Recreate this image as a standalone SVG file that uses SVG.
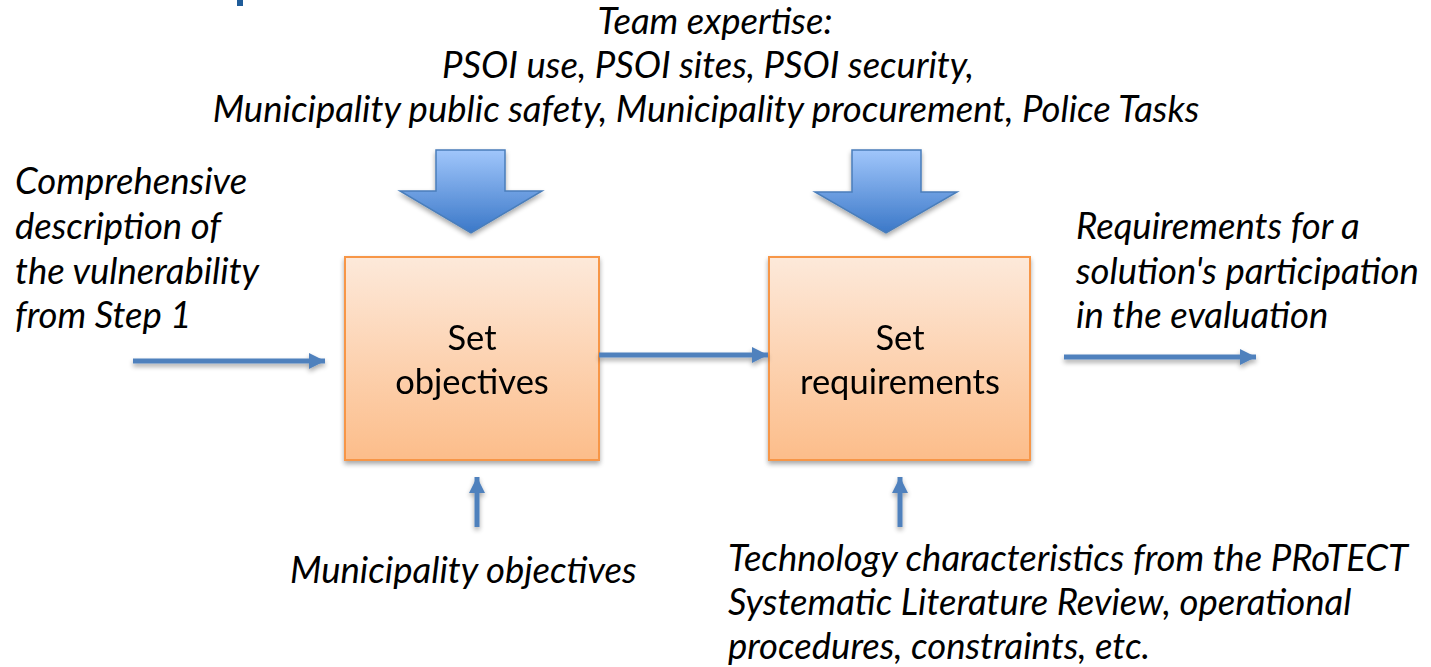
<svg xmlns="http://www.w3.org/2000/svg" width="1431" height="667" viewBox="0 0 1431 667">
  <defs>
    <linearGradient id="boxFill" x1="0" y1="0" x2="0" y2="1">
      <stop offset="0" stop-color="#fde9da"/>
      <stop offset="1" stop-color="#fcbd8a"/>
    </linearGradient>
    <linearGradient id="blockFill" x1="0" y1="0" x2="0" y2="1">
      <stop offset="0" stop-color="#a0c6fb"/>
      <stop offset="1" stop-color="#3b78c8"/>
    </linearGradient>
    <filter id="shadow" x="-20%" y="-20%" width="140%" height="160%">
      <feGaussianBlur in="SourceAlpha" stdDeviation="2.5"/>
      <feOffset dx="0" dy="3" result="b"/>
      <feComponentTransfer><feFuncA type="linear" slope="0.35"/></feComponentTransfer>
      <feMerge><feMergeNode/><feMergeNode in="SourceGraphic"/></feMerge>
    </filter>
    <marker id="head" viewBox="0 0 10 10" refX="10" refY="5" markerWidth="3.2" markerHeight="3.2" orient="auto" markerUnits="strokeWidth">
      <path d="M0,0 L10,5 L0,10 z" fill="#4f81bd"/>
    </marker>
  </defs>
  <style>
    .box { fill: url(#boxFill); stroke: #f79646; stroke-width: 2; }
    .block { fill: url(#blockFill); stroke: #4a7ebb; stroke-width: 1.5; }
    .flow { stroke: #4f81bd; stroke-width: 5; fill: none; marker-end: url(#head); }
    .lbl { font-family: Lato, "Liberation Sans", sans-serif; font-style: italic; font-size: 36.5px; fill: #000; }
    .name { font-family: Lato, "Liberation Sans", sans-serif; font-size: 34.5px; fill: #000; text-anchor: middle; }
  </style>

  <rect x="237" y="0" width="6" height="6" fill="#1f5c99"/>

  <g id="top-label">
    <text class="lbl" text-anchor="middle" x="715" y="34">Team expertise:</text>
    <text class="lbl" text-anchor="middle" x="708" y="78">PSOI use, PSOI sites, PSOI security,</text>
    <text class="lbl" text-anchor="middle" x="706" y="122">Municipality public safety, Municipality procurement, Police Tasks</text>
  </g>

  <g id="expertise-arrow-1" filter="url(#shadow)">
    <path class="block" d="M436,150 H505 V191 H542 L471,233 L400,191 H436 Z"/>
  </g>
  <g id="expertise-arrow-2" filter="url(#shadow)">
    <path class="block" d="M852,150 H921 V192 H957 L886,233 L815,192 H852 Z"/>
  </g>

  <g id="input-label">
    <text class="lbl" x="15" y="194">Comprehensive</text>
    <text class="lbl" x="15" y="239">description of</text>
    <text class="lbl" x="15" y="284">the vulnerability</text>
    <text class="lbl" x="15" y="328">from Step 1</text>
  </g>

  <g id="output-label">
    <text class="lbl" x="1076" y="239">Requirements for a</text>
    <text class="lbl" x="1076" y="284">solution's participation</text>
    <text class="lbl" x="1076" y="328">in the evaluation</text>
  </g>

  <g id="set-objectives" filter="url(#shadow)">
    <rect class="box" x="345" y="257" width="254" height="203"/>
    <text class="name" x="472" y="350">Set</text>
    <text class="name" x="472" y="394">objectives</text>
  </g>

  <g id="set-requirements" filter="url(#shadow)">
    <rect class="box" x="769" y="257" width="261" height="203"/>
    <text class="name" x="900" y="350">Set</text>
    <text class="name" x="900" y="394">requirements</text>
  </g>

  <g id="connectors" filter="url(#shadow)">
    <line class="flow" x1="133" y1="361" x2="325" y2="361"/>
    <line class="flow" x1="599" y1="355" x2="768" y2="355"/>
    <line class="flow" x1="1064" y1="357" x2="1256" y2="357"/>
    <line class="flow" x1="477" y1="527" x2="477" y2="477"/>
    <line class="flow" x1="900" y1="527" x2="900" y2="477"/>
  </g>

  <g id="objectives-label">
    <text class="lbl" x="290" y="583">Municipality objectives</text>
  </g>

  <g id="technology-label">
    <text class="lbl" x="728" y="571">Technology characteristics from the PRoTECT</text>
    <text class="lbl" x="728" y="615">Systematic Literature Review, operational</text>
    <text class="lbl" x="728" y="659">procedures, constraints, etc.</text>
  </g>
</svg>
